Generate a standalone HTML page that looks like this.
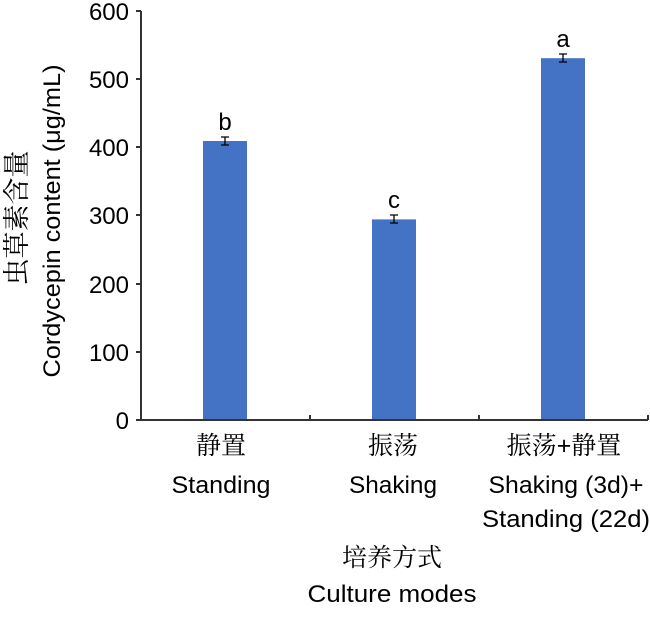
<!DOCTYPE html><html><head><style>body{margin:0;background:#fff}</style></head><body>
<svg width="650" height="614" xmlns="http://www.w3.org/2000/svg" font-family="Liberation Sans, DejaVu Sans, sans-serif" font-size="24" fill="#000">
<g fill="#4472C4">
<rect x="203" y="141" width="44" height="279"/>
<rect x="372" y="219.4" width="44" height="200.6"/>
<rect x="541" y="58.2" width="44" height="361.8"/>
</g>
<g stroke="#000" stroke-width="1.3" fill="none">
<path d="M225 137v8M221 137h8M221 145h8"/>
<path d="M394 215v8M390 215h8M390 223h8"/>
<path d="M563 54v8M559 54h8M559 62h8"/>
</g>
<g stroke="#333" stroke-width="2" fill="none">
<path d="M141 11V420H648"/>
<path d="M136 11h5M136 79h5M136 147h5M136 215h5M136 284h5M136 352h5M136 420h5"/>
<path d="M310 420v-5M479 420v-5M648 420v-5"/>
</g>
<g text-anchor="end">
<text x="129" y="20">600</text><text x="129" y="88">500</text><text x="129" y="156">400</text>
<text x="129" y="224">300</text><text x="129" y="293">200</text><text x="129" y="361">100</text><text x="129" y="429">0</text>
</g>
<g text-anchor="middle">
<text x="225" y="130">b</text><text x="394" y="208">c</text><text x="563" y="47">a</text>
<text x="221" y="454" font-size="25" font-family="Noto Serif CJK SC, serif">静置</text>
<text x="221" y="493" textLength="99" lengthAdjust="spacingAndGlyphs">Standing</text>
<text x="393" y="454" font-size="25" font-family="Noto Serif CJK SC, serif">振荡</text>
<text x="393" y="493" textLength="88" lengthAdjust="spacingAndGlyphs">Shaking</text>
<text x="564" y="454" font-size="25"><tspan font-family="Noto Serif CJK SC, serif">振荡</tspan>+<tspan font-family="Noto Serif CJK SC, serif">静置</tspan></text>
<text x="566" y="493" textLength="155" lengthAdjust="spacingAndGlyphs">Shaking (3d)+</text>
<text x="566" y="527" textLength="168" lengthAdjust="spacingAndGlyphs">Standing (22d)</text>
<text x="392" y="566" font-size="25" font-family="Noto Serif CJK SC, serif">培养方式</text>
<text x="392" y="602" textLength="169" lengthAdjust="spacingAndGlyphs">Culture modes</text>
<text transform="translate(26,218) rotate(-90)" font-size="27" font-family="Noto Serif CJK SC, serif">虫草素含量</text>
<text transform="translate(60,221) rotate(-90)" textLength="313" lengthAdjust="spacingAndGlyphs">Cordycepin content (μg/mL)</text>
</g>
</svg>
</body></html>
